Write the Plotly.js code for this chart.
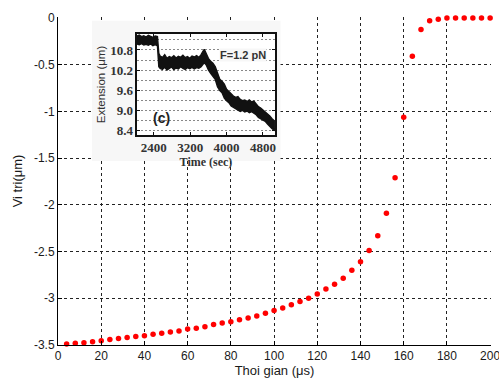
<!DOCTYPE html>
<html>
<head>
<meta charset="utf-8">
<script src="https://cdn.plot.ly/plotly-3.0.1.min.js"></script>
<style>
html,body{margin:0;padding:0;background:#fff;}
#chart{width:499px;height:378px;}
</style>
</head>
<body>
<div id="chart"></div>
<script>
// Main series: position vs time
const timeUs = [4,8,12,16,20,24,28,32,36,40,44,48,52,56,60,64,68,72,76,80,84,88,92,96,100,
  104,108,112,116,120,124,128,132,136,140,144,148,152,156,160,164,168,172,176,180,184,188,192,196,200];
const positionUm = [-3.49,-3.48,-3.475,-3.465,-3.455,-3.44,-3.43,-3.42,-3.41,-3.40,
  -3.385,-3.375,-3.36,-3.35,-3.33,-3.32,-3.305,-3.28,-3.265,-3.25,
  -3.23,-3.21,-3.19,-3.16,-3.13,-3.105,-3.07,-3.035,-3.00,-2.955,
  -2.90,-2.85,-2.785,-2.70,-2.61,-2.49,-2.33,-2.09,-1.71,-1.064,
  -0.41,-0.125,-0.03,-0.015,0,0,0,0,0,0];
const xTickVals = [0,20,40,60,80,100,120,140,160,180,200];
const yTickVals = [0,-0.5,-1,-1.5,-2,-2.5,-3,-3.5];
const yTickText = ["0","-0.5","-1","-1.5","-2","-2.5","-3","-3.5"];

// Inset series: extension vs time (upper / lower edges of the noisy band)
const insetTime = [2030,2080,2130,2180,2230,2280,2330,2380,2430,2480,
  2510,2540,2590,2640,2690,2740,2790,2840,2890,2940,
  2990,3040,3090,3140,3190,3240,3290,3340,3390,3440,
  3480,3510,3550,3600,3650,3700,3750,3800,3850,3900,
  3950,4000,4050,4100,4150,4200,4250,4300,4350,4400,
  4450,4500,4550,4600,4650,4700,4750,4800,4850,4900,
  4950,5000,5064];
const extHigh = [11.22,11.25,11.20,11.23,11.19,11.24,11.21,11.18,11.22,11.20,
  10.70,10.62,10.58,10.66,10.55,10.60,10.57,10.63,10.56,10.61,
  10.58,10.64,10.57,10.60,10.55,10.62,10.59,10.63,10.58,10.66,
  10.76,10.82,10.70,10.55,10.46,10.40,10.30,10.10,9.92,9.86,
  9.78,9.62,9.55,9.46,9.42,9.38,9.40,9.32,9.28,9.30,
  9.25,9.30,9.24,9.27,9.18,9.10,9.06,9.00,8.96,8.90,
  8.82,8.74,8.66];
const extLow = [10.98,10.96,10.99,10.95,10.97,10.94,10.98,10.93,10.96,10.92,
  10.30,10.25,10.22,10.28,10.20,10.24,10.29,10.21,10.26,10.23,
  10.30,10.25,10.22,10.27,10.24,10.28,10.23,10.27,10.25,10.30,
  10.38,10.42,10.36,10.20,10.10,10.02,9.92,9.70,9.58,9.52,
  9.36,9.28,9.22,9.12,9.08,9.02,8.98,8.96,8.99,8.94,
  8.97,8.92,8.95,8.90,8.86,8.78,8.74,8.68,8.66,8.58,
  8.50,8.44,8.38];
const insetXTicks = [2400,3200,4000,4800];

const gridDash = '3px,3px';
const mainFont = {family: 'Liberation Sans, Arial, sans-serif', size: 12, color: '#1a1a1a'};
const serifBold = {family: 'Liberation Serif, Times New Roman, serif', size: 13, color: '#333', weight: 'bold'};

const traces = [
  {x: timeUs, y: positionUm, type: 'scatter', mode: 'markers', xaxis: 'x', yaxis: 'y',
   marker: {color: '#ff0000', size: 5.5}, hoverinfo: 'skip', cliponaxis: false},
  {x: insetTime, y: extLow, type: 'scatter', mode: 'lines', xaxis: 'x2', yaxis: 'y2',
   line: {color: '#111', width: 1.4}, hoverinfo: 'skip'},
  {x: insetTime, y: extHigh, type: 'scatter', mode: 'lines', xaxis: 'x2', yaxis: 'y2',
   fill: 'tonexty', fillcolor: '#111', line: {color: '#111', width: 1.4}, hoverinfo: 'skip'}
];

const layout = {
  width: 499, height: 378,
  margin: {l: 58, r: 8, t: 17, b: 33},
  paper_bgcolor: '#fff', plot_bgcolor: '#fff',
  showlegend: false,
  font: mainFont,
  xaxis: {
    range: [0, 200.4], tickvals: xTickVals,
    showgrid: true, gridcolor: '#222', griddash: gridDash, gridwidth: 1,
    zeroline: false, showline: true, linecolor: '#000', linewidth: 1,
    ticks: 'inside', ticklen: 4, tickcolor: '#000',
    tickfont: mainFont, ticklabeloverflow: 'allow',
    title: {text: 'Thoi gian (μs)', font: {family: 'Liberation Sans, Arial, sans-serif', size: 13, color: '#1a1a1a'}, standoff: 6}
  },
  yaxis: {
    range: [-3.5, 0.01], tickvals: yTickVals, ticktext: yTickText,
    showgrid: true, gridcolor: '#222', griddash: gridDash, gridwidth: 1,
    zeroline: false, showline: true, linecolor: '#000', linewidth: 1,
    ticks: 'inside', ticklen: 4, tickcolor: '#000',
    tickfont: mainFont, ticklabeloverflow: 'allow',
    title: {text: 'Vi tri(μm)', font: {family: 'Liberation Sans, Arial, sans-serif', size: 13, color: '#1a1a1a'}, standoff: 8}
  },
  xaxis2: {
    anchor: 'y2', domain: [0.1824, 0.5012], range: [2030, 5065],
    tickvals: insetXTicks, showgrid: false, zeroline: false,
    showline: true, mirror: 'allticks', linecolor: '#111', linewidth: 1.5,
    ticks: 'inside', ticklen: 3, tickcolor: '#111',
    tickfont: serifBold,
    title: {text: 'Time (sec)', font: {family: 'Liberation Serif, Times New Roman, serif', size: 12, color: '#333', weight: 'bold'}, standoff: 0}
  },
  yaxis2: {
    anchor: 'x2', domain: [0.6402, 0.9482], range: [8.25, 11.28],
    tick0: 8.4, dtick: 0.6, tickformat: '.1f',
    showgrid: true, gridcolor: '#888', griddash: '2px,2px', gridwidth: 1,
    minor: {dtick: 0.3, tick0: 8.4, showgrid: true, gridcolor: '#888', griddash: '2px,2px', gridwidth: 1},
    zeroline: false, showline: true, mirror: 'allticks', linecolor: '#111', linewidth: 1.5,
    ticks: 'inside', ticklen: 3, tickcolor: '#111',
    tickfont: serifBold,
    title: {text: 'Extension (μm)', font: {family: 'Liberation Sans, Arial, sans-serif', size: 11.5, color: '#333'}, standoff: 2}
  },
  shapes: [
    {type: 'rect', xref: 'x', yref: 'y', layer: 'between',
     x0: 15.7, x1: 103, y0: -0.03, y1: -1.53,
     fillcolor: '#f7f7f7', line: {width: 0}}
  ],
  annotations: [
    {xref: 'x2', yref: 'y2', x: 4361, y: 10.66, text: 'F=1.2 pN', showarrow: false,
     font: {family: 'Liberation Sans, Arial, sans-serif', size: 11, color: '#333', weight: 'bold'},
     bgcolor: '#f7f7f7', borderpad: 0},
    {xref: 'x2', yref: 'y2', x: 2574, y: 8.76, text: '(c)', showarrow: false,
     font: {family: 'Liberation Sans, Arial, sans-serif', size: 14, color: '#222', weight: 'bold'}}
  ]
};

Plotly.newPlot('chart', traces, layout, {staticPlot: true, displayModeBar: false});
</script>
</body>
</html>
